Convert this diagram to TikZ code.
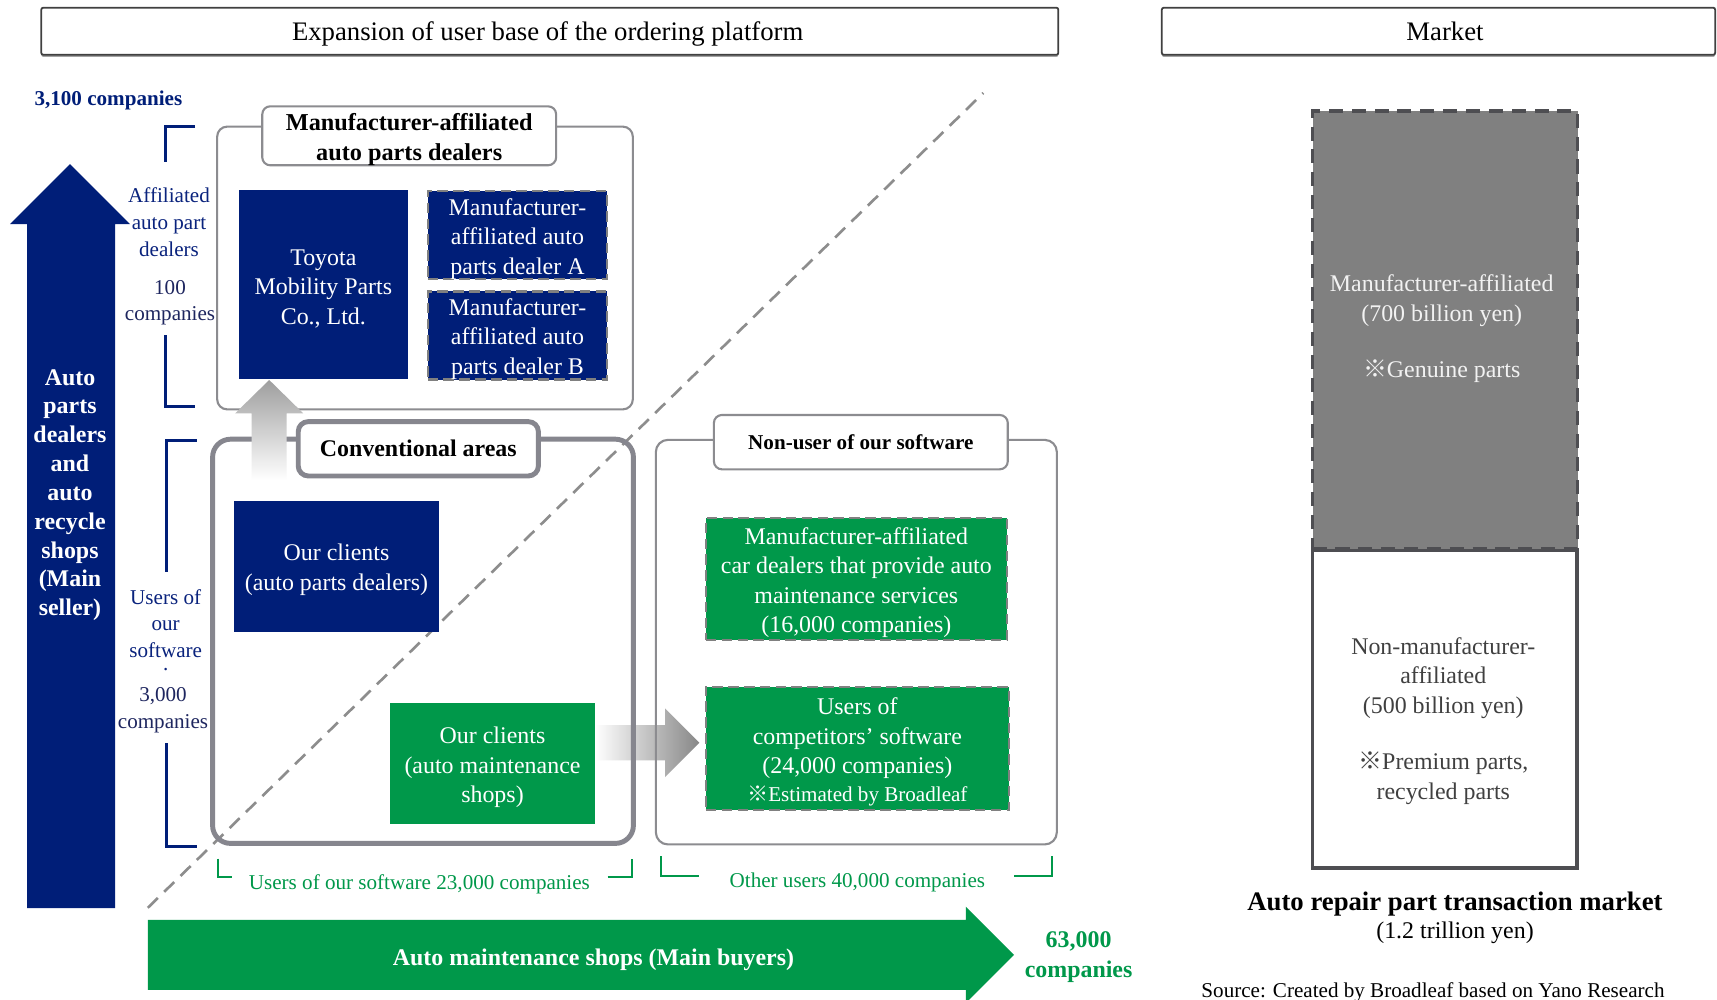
\documentclass[tikz,border=0pt]{standalone}
\usepackage{fontspec}
\setmainfont{Liberation Serif}
\newfontfamily\cjkfont{Noto Sans CJK JP}
\newcommand{\kome}{{\cjkfont ※}}
% taller first line: drops a box's text block slightly below the geometric centre
\newcommand{\tstrut}{\rule{0pt}{6.8pt}}
\usetikzlibrary{shadows}

\definecolor{navy}{RGB}{0,30,120}
\definecolor{navytext}{RGB}{10,35,125}
\definecolor{darknavy}{RGB}{30,38,95}
\definecolor{leafgreen}{RGB}{0,152,74}
\definecolor{framegray}{RGB}{140,140,144}
\definecolor{convgray}{RGB}{134,134,142}
\definecolor{dashgray}{RGB}{128,128,128}
\definecolor{barfill}{RGB}{128,128,128}
\definecolor{barline}{RGB}{78,78,82}
\definecolor{bartext}{RGB}{64,64,64}

\begin{document}
\begin{tikzpicture}[x=0.01cm,y=-0.01cm,
  every node/.style={inner sep=0pt, align=center},
  f7/.style={font=\fontsize{6.8}{8.4}\selectfont},
  f7b/.style={font=\fontsize{6.8}{8.4}\selectfont\bfseries},
  f6/.style={font=\fontsize{6}{7.5}\selectfont},
  f6b/.style={font=\fontsize{6}{7.5}\selectfont\bfseries},
  header/.style={draw=black!75, line width=0.5pt, rounded corners=0.02cm, fill=white,
    font=\fontsize{7.6}{9}\selectfont, text depth=0pt,
    drop shadow={shadow xshift=0pt, shadow yshift=-0.6pt, fill=black!60, opacity=0.6}},
  navybox/.style={f7, text=white, fill=navy},
  greenbox/.style={f7, text=white, fill=leafgreen},
  dashedbox/.style={draw=dashgray, line width=0.6pt, dash pattern=on 3pt off 1.5pt},
  frame/.style={draw=framegray, line width=0.6pt, rounded corners=0.1cm},
  tabbox/.style={draw=framegray, line width=0.6pt, rounded corners=0.08cm, fill=white},
  convframe/.style={draw=convgray, line width=1.4pt, rounded corners=0.18cm},
  bracket/.style={draw=navy, line width=0.7pt},
  gbracket/.style={draw=leafgreen, line width=0.6pt},
]
\fill[white] (0,0) rectangle (1717,1000);
\useasboundingbox (0,0) rectangle (1717,1000);

% ---------- section headers ----------
\node[header, minimum width=10.164cm, minimum height=0.471cm] (hdrL) at (549.8,31.25)
  {Expansion of user base of the ordering platform\hspace*{1.2pt}};
\node[header, minimum width=5.53cm, minimum height=0.471cm] (hdrR) at (1438.5,31.25)
  {\hspace*{3.7pt}Market};

% ---------- diagonal divider ----------
\coordinate (dgA) at (147.8,907.8);
\coordinate (dgB) at (983.3,93);
\draw[dashgray!90, line width=0.75pt, dash pattern=on 4pt off 2.5pt] (dgA) -- (dgB);

% ---------- vertical seller axis ----------
\fill[navy] (27,908) -- (27,224) -- (10,224) -- (70,164) -- (130,224) -- (115,224) -- (115,908) -- cycle;
\node[font=\fontsize{6.8}{8.2}\selectfont\bfseries, text=white] (sellers) at (70,495)
  {Auto\\parts\\dealers\\and\\auto\\recycle\\shops\\(Main\\seller)};
\node[f6b, text=navy] (sellTotal) at (108.4,100.3) {3,100 companies};

% brackets on the seller axis
\draw[bracket] (195,126.7) -| (165.7,161.7);
\draw[bracket] (165.7,335) |- (195,406.7);
\node[f6, text=navytext, font=\fontsize{6}{7.6}\selectfont] (affLbl) at (169,222) {Affiliated\\auto part\\dealers};
\node[f6, text=darknavy, font=\fontsize{6}{7.3}\selectfont] (affNum) at (170,302.7) {100\\companies};

\draw[bracket] (196.7,440.7) -| (166.7,571.7);
\draw[bracket] (166.7,743.3) |- (196.7,846.7);
\node[f6, text=navytext, font=\fontsize{6}{7.5}\selectfont] (usrLbl) at (165.7,623.5) {Users of\\our\\software};
\node[f6, text=navytext, anchor=base] (usrDot) at (165.7,670) {.};
\node[f6, text=darknavy, font=\fontsize{6}{7.5}\selectfont] (usrNum) at (163,710.3) {3,000\\companies};

% ---------- manufacturer-affiliated dealers ----------
\node[frame, minimum width=4.154cm, minimum height=2.826cm] (mfrArea) at (425,268) {};
\node[tabbox, font=\fontsize{6.9}{8.5}\selectfont\bfseries, minimum width=2.937cm, minimum height=0.55cm]
  (mfrTab) at (409.2,135.8) {\tstrut Manufacturer-affiliated\\auto parts dealers};
\node[navybox, minimum width=1.687cm, minimum height=1.893cm] (toyota) at (323.35,284.65)
  {\tstrut Toyota\\Mobility Parts\\Co., Ltd.};
\node[navybox, dashedbox, minimum width=1.796cm, minimum height=0.86cm] (dealerA) at (517.5,235.3)
  {\tstrut Manufacturer-\\affiliated auto\\parts dealer A};
\node[navybox, dashedbox, minimum width=1.796cm, minimum height=0.856cm] (dealerB) at (517.5,335.5)
  {\tstrut Manufacturer-\\affiliated auto\\parts dealer B};

% ---------- arrow towards the competitors' users ----------
\shade[left color=white, right color=black!47]
  (595,725) -- (665,725) -- (665,708.3) -- (699.3,742.7) -- (665,777) -- (665,760.4) -- (595,760.4) -- cycle;

% ---------- conventional areas ----------
\node[convframe, minimum width=4.206cm, minimum height=4.04cm] (conv) at (423,641.3) {};
\node[convframe, fill=white, rounded corners=0.1cm, f7b, minimum width=2.4cm, minimum height=0.543cm]
  (convTab) at (418.3,448.8) {Conventional areas};
\node[navybox, minimum width=2.05cm, minimum height=1.307cm] (clientsD) at (336.5,566.35)
  {\tstrut Our clients\\(auto parts dealers)};
\node[greenbox, minimum width=2.05cm, minimum height=1.21cm] (clientsM) at (492.5,763.8)
  {\tstrut Our clients\\(auto maintenance\\shops)};

% arrow towards the affiliated dealers
\shade[top color=black!38, bottom color=white]
  (251.7,480) -- (251.7,413.3) -- (235.2,413.3) -- (269.2,380) -- (303.2,413.3) -- (286.7,413.3) -- (286.7,480) -- cycle;

% ---------- non-users ----------
\node[frame, rounded corners=0.12cm, minimum width=4.007cm, minimum height=4.043cm] (nonUser) at (856.35,642.15) {};
\node[tabbox, f6b, minimum width=2.937cm, minimum height=0.543cm] (nonUserTab) at (860.85,442.15)
  {Non-user of our software};
\node[greenbox, dashedbox, minimum width=3.007cm, minimum height=1.217cm] (carDealers) at (856.35,579.15)
  {\tstrut Manufacturer-affiliated\\car dealers that provide auto\\maintenance services\\(16,000 companies)};
\node[greenbox, dashedbox, minimum width=3.027cm, minimum height=1.233cm] (competitors) at (857.35,748.35)
  {\tstrut Users of\\competitors’ software\\(24,000 companies)\\[-0.6pt]{\fontsize{6}{7}\selectfont\kome Estimated by Broadleaf}};

% ---------- buyer counts ----------
\draw[gbracket] (217.9,858.5) |- (232,877);
\draw[gbracket] (607.7,877) -| (631.8,858.5);
\node[f6, text=leafgreen] (ownUsers) at (419.4,884.8) {Users of our software 23,000 companies};
\draw[gbracket] (661.4,856.3) |- (698.6,876);
\draw[gbracket] (1014,876) -| (1052.3,856.3);
\node[f6, text=leafgreen] (otherUsers) at (857.4,882.6) {Other users 40,000 companies};

% horizontal buyer axis
\fill[leafgreen] (147.8,919.8) -- (965.8,919.8) -- (965.8,906.6) -- (1014,954.8) -- (965.8,1003) -- (965.8,989.9) -- (147.8,989.9) -- cycle;
\node[f7b, text=white] (buyers) at (593.5,959.3) {Auto maintenance shops (Main buyers)};
\node[f7b, text=leafgreen] (buyTotal) at (1078.6,957.3) {63,000\\companies};

% ---------- market ----------
\node[draw=barline, line width=1pt, fill=white, minimum width=2.64cm, minimum height=3.177cm] (nonMfrBar) at (1444.7,708.85) {};
\node[fill=barfill, draw=barline, line width=0.95pt, dash pattern=on 4pt off 2.5pt,
  minimum width=2.648cm, minimum height=4.373cm] (mfrBar) at (1445.1,329.85) {};
\node[f7, text=black!5] (mfrBarTxt) at (1441.7,300.5) {Manufacturer-affiliated\\(700 billion yen)};
\node[f7, text=black!5] (mfrBarNote) at (1441.7,371) {\kome Genuine parts};
\node[f7, text=bartext] (nonMfrTxt) at (1443.3,678) {Non-manufacturer-\\affiliated\\(500 billion yen)};
\node[f7, text=bartext] (nonMfrNote) at (1443.3,778) {\kome Premium parts,\\recycled parts};

\node[font=\fontsize{7.6}{9}\selectfont\bfseries] (mktTitle) at (1455,903.9) {Auto repair part transaction market};
\node[f7] (mktSize) at (1455,933) {(1.2 trillion yen)};
\node[f6] (source) at (1433,992.2) {Source: Created by Broadleaf based on Yano Research};
\end{tikzpicture}
\end{document}
